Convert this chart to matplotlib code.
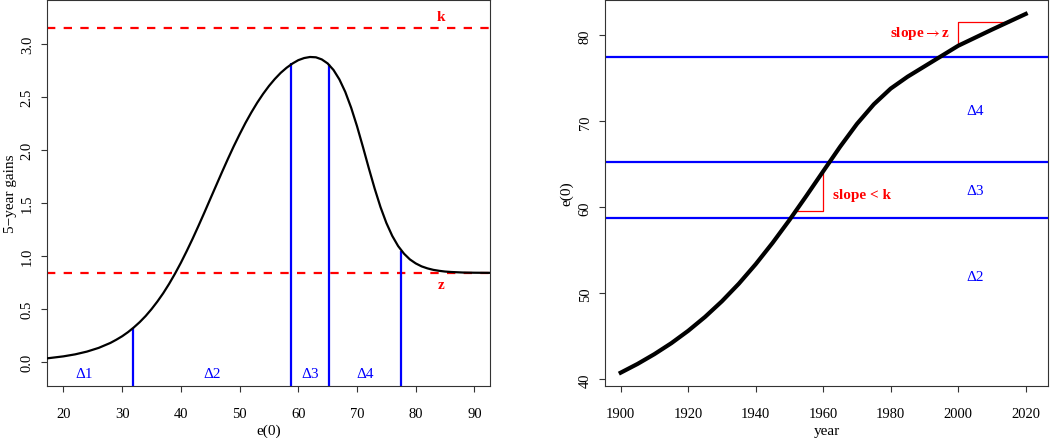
import matplotlib
matplotlib.use("Agg")
import matplotlib.pyplot as plt

plt.rcParams['font.family'] = ['Liberation Serif', 'DejaVu Serif']
plt.rcParams['mathtext.fontset'] = 'stix'

# left panel: 5-year gains as a function of e(0)
e0_grid = [17.2, 20, 22, 24, 26, 28, 29, 30, 31, 32, 33, 34, 35, 36, 37, 38, 39,
           40, 41, 42, 43, 44, 45, 46, 47, 48, 49, 50, 51, 52, 53, 54, 55, 56,
           57, 58, 59, 60, 61, 62, 63, 64, 65, 66, 67, 68, 69, 70, 71,
           72, 73, 74, 75, 76, 77, 78, 79, 80, 81, 82, 83, 84, 85, 86, 88, 90, 92.8]
gains = [0.032, 0.051, 0.070, 0.096, 0.131, 0.178, 0.208, 0.241, 0.280, 0.325,
         0.375, 0.432, 0.497, 0.569, 0.648, 0.736, 0.832, 0.935, 1.046, 1.162,
         1.284, 1.409, 1.537, 1.664, 1.791, 1.915, 2.035, 2.148, 2.256, 2.355,
         2.447, 2.530, 2.605, 2.671, 2.729, 2.777, 2.817, 2.849, 2.869, 2.879,
         2.876, 2.856, 2.818, 2.756, 2.667, 2.549, 2.400, 2.225, 2.031, 1.830,
         1.637, 1.461, 1.311, 1.189, 1.093, 1.021, 0.967, 0.929, 0.901, 0.882,
         0.868, 0.859, 0.852, 0.848, 0.843, 0.841, 0.840]
k_level = 3.15
z_level = 0.84
delta_bounds = [31.8, 58.8, 65.3, 77.5]
delta_tops = [0.315, 2.82, 2.81, 1.05]
delta_labels = ['Δ1', 'Δ2', 'Δ3', 'Δ4']
delta_label_x = [23.6, 45.3, 62.05, 71.4]

# right panel: e(0) trajectory
years = [1900, 1905, 1910, 1915, 1920, 1925, 1930, 1935, 1940, 1945, 1950, 1955,
         1960, 1965, 1970, 1975, 1980, 1985, 1990, 1995, 2000, 2005, 2010, 2015, 2020]
e0_path = [40.77, 41.79, 42.93, 44.20, 45.64, 47.26, 49.08, 51.12, 53.39, 55.87,
           58.53, 61.33, 64.20, 67.05, 69.71, 71.99, 73.82, 75.20, 76.40, 77.60,
           78.80, 79.74, 80.68, 81.59, 82.50]
right_labels = ['Δ2', 'Δ3', 'Δ4']
right_label_y = [51.9, 62.0, 71.3]
tri_k_x = [1951.3, 1960, 1960]
tri_k_y = [59.6, 59.6, 64.05]
tri_z_x = [2000, 2000, 2015]
tri_z_y = [78.9, 81.6, 81.6]

W, H = 1050, 439
fig = plt.figure(figsize=(W / 100, H / 100), dpi=100)
ax1 = fig.add_axes([47 / W, (H - 387) / H, 443.3 / W, 386.5 / H])
ax2 = fig.add_axes([605 / W, (H - 387) / H, 443 / W, 386.5 / H])

red = '#ff0000'
blue = '#0000ff'
dash = (0, (3.75, 3.75))


def style(ax):
    for sp in ax.spines.values():
        sp.set_color('#333333')
        sp.set_linewidth(0.8)
    ax.tick_params(length=4.5, width=0.8, color='#333333', labelsize=10.5)
    ax.tick_params(axis='x', pad=10.5)
    ax.tick_params(axis='y', pad=5, labelrotation=90)
    for lab in ax.get_yticklabels():
        lab.set_va('center')


# ---- left
ax1.plot(e0_grid, gains, color='black', lw=1.6, zorder=3)
ax1.axhline(k_level, color=red, lw=1.6, ls=dash)
ax1.axhline(z_level, color=red, lw=1.6, ls=dash)
ax1.vlines(delta_bounds, -1, delta_tops, color=blue, lw=1.6)
for lx, lab in zip(delta_label_x, delta_labels):
    ax1.text(lx, -0.107, lab, color=blue, fontsize=11, ha='center', va='center')
ax1.text(84.3, 3.26, 'k', color=red, fontsize=11, fontweight='bold', ha='center', va='center')
ax1.text(84.3, 0.73, 'z', color=red, fontsize=11, fontweight='bold', ha='center', va='center')
ax1.set_xlim(17.2, 92.7)
ax1.set_ylim(-0.229, 3.422)
ax1.set_xticks(range(20, 91, 10))
ax1.set_yticks([0, 0.5, 1.0, 1.5, 2.0, 2.5, 3.0])
ax1.set_yticklabels(['0.0', '0.5', '1.0', '1.5', '2.0', '2.5', '3.0'])
ax1.set_xlabel('e(0)', fontsize=11, labelpad=3)
ax1.set_ylabel('5−year gains', fontsize=11, labelpad=3)
style(ax1)

# ---- right
for b in delta_bounds[1:]:
    ax2.axhline(b, color=blue, lw=1.6)
ax2.plot(years, e0_path, color='black', lw=3.0, zorder=3)
ax2.plot(tri_k_x, tri_k_y, color=red, lw=0.9)
ax2.plot(tri_z_x, tri_z_y, color=red, lw=0.9)
ax2.text(1971.4, 61.5, 'slope < k', color=red, fontsize=11, fontweight='bold', ha='center', va='center')
ax2.text(1988.7, 80.3, r'slope$\rightarrow$z', color=red, fontsize=11, fontweight='bold',
         ha='center', va='center')
for ly, lab in zip(right_label_y, right_labels):
    ax2.text(2005, ly, lab, color=blue, fontsize=11, ha='center', va='center')
ax2.set_xlim(1895.35, 2026.6)
ax2.set_ylim(39.22, 84.18)
ax2.set_xticks(range(1900, 2021, 20))
ax2.set_yticks(range(40, 81, 10))
ax2.set_xlabel('year', fontsize=11, labelpad=3)
ax2.set_ylabel('e(0)', fontsize=11, labelpad=4)
style(ax2)

fig.savefig('out.png', dpi=100)
